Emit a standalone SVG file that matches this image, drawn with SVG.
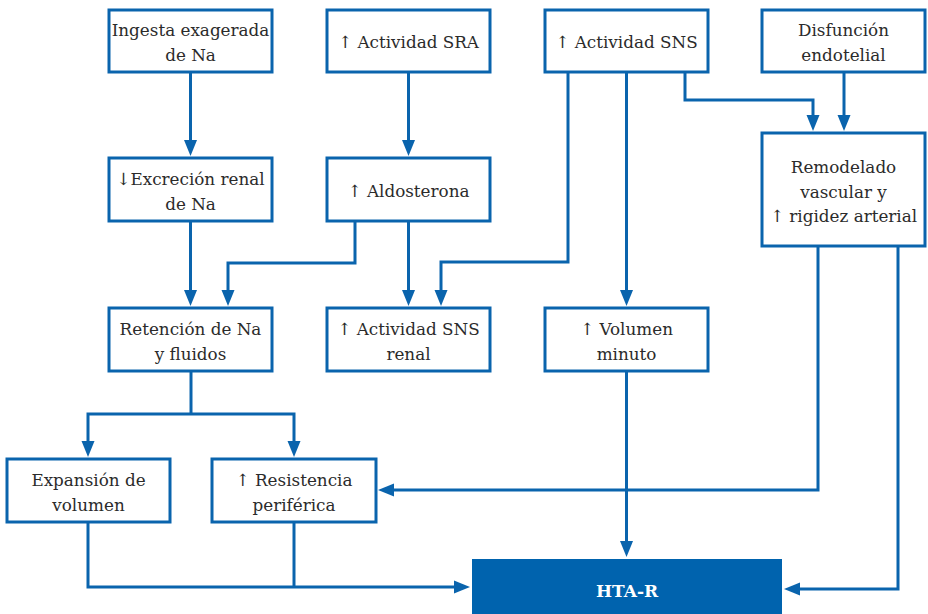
<svg xmlns="http://www.w3.org/2000/svg" width="928" height="614" viewBox="0 0 928 614">
  <style>
    .box { fill: #ffffff; stroke: #0a64ad; stroke-width: 3; }
    .final { fill: #0063ae; stroke: none; }
    .lbl { font-family: "DejaVu Serif", "Liberation Serif", serif; font-size: 16.8px; fill: #2b2b2b; text-anchor: middle; }
    .final-lbl { font-family: "DejaVu Serif", "Liberation Serif", serif; font-size: 17px; font-weight: bold; fill: #ffffff; text-anchor: middle; }
    .wire { fill: none; stroke: #0a64ad; stroke-width: 3; stroke-linejoin: miter; }
  </style>
  <defs>
    <marker id="arrow" markerUnits="userSpaceOnUse" markerWidth="16" markerHeight="14" viewBox="0 0 16 14" refX="10" refY="7" orient="auto">
      <path d="M0,0.5 L16,7 L0,13.5 z" fill="#0a64ad"/>
    </marker>
  </defs>

  <rect width="928" height="614" fill="#ffffff"/>

  <!-- connectors -->
  <g id="connectors">
    <path class="wire" d="M190.5,72 V150" marker-end="url(#arrow)"/>
    <path class="wire" d="M408.5,72 V150" marker-end="url(#arrow)"/>
    <path class="wire" d="M190.5,221 V300" marker-end="url(#arrow)"/>
    <path class="wire" d="M355,221 V263 H228 V300" marker-end="url(#arrow)"/>
    <path class="wire" d="M408.5,221 V300" marker-end="url(#arrow)"/>
    <path class="wire" d="M568,72 V262 H441 V300" marker-end="url(#arrow)"/>
    <path class="wire" d="M626.5,72 V300" marker-end="url(#arrow)"/>
    <path class="wire" d="M685,72 V100 H813 V125" marker-end="url(#arrow)"/>
    <path class="wire" d="M844,72 V125" marker-end="url(#arrow)"/>
    <path class="wire" d="M818,246 V490 H384" marker-end="url(#arrow)"/>
    <path class="wire" d="M898,246 V589 H790" marker-end="url(#arrow)"/>
    <path class="wire" d="M626.5,371 V551" marker-end="url(#arrow)"/>
    <path class="wire" d="M191,371 V414"/>
    <path class="wire" d="M191,414 H88 V451" marker-end="url(#arrow)"/>
    <path class="wire" d="M191,414 H294 V451" marker-end="url(#arrow)"/>
    <path class="wire" d="M294,522 V587"/>
    <path class="wire" d="M88,522 V587 H464" marker-end="url(#arrow)"/>
  </g>

  <!-- row 1 -->
  <g id="ingesta">
    <rect class="box" x="109" y="10" width="163" height="62"/>
    <text class="lbl" x="190.5" y="36">Ingesta exagerada</text>
    <text class="lbl" x="190.5" y="61">de Na</text>
  </g>
  <g id="sra">
    <rect class="box" x="327" y="10" width="163" height="62"/>
    <text class="lbl" x="408.5" y="48">↑ Actividad SRA</text>
  </g>
  <g id="sns">
    <rect class="box" x="545" y="10" width="163" height="62"/>
    <text class="lbl" x="626.5" y="48">↑ Actividad SNS</text>
  </g>
  <g id="disfuncion">
    <rect class="box" x="762" y="10" width="163" height="62"/>
    <text class="lbl" x="843.5" y="36">Disfunción</text>
    <text class="lbl" x="843.5" y="61">endotelial</text>
  </g>

  <!-- row 2 -->
  <g id="excrecion">
    <rect class="box" x="109" y="158" width="163" height="63"/>
    <text class="lbl" x="190.5" y="185">↓Excreción renal</text>
    <text class="lbl" x="190.5" y="210">de Na</text>
  </g>
  <g id="aldosterona">
    <rect class="box" x="327" y="158" width="163" height="63"/>
    <text class="lbl" x="408.5" y="197">↑ Aldosterona</text>
  </g>
  <g id="remodelado">
    <rect class="box" x="762" y="133" width="163" height="113"/>
    <text class="lbl" x="843.5" y="173">Remodelado</text>
    <text class="lbl" x="843.5" y="198">vascular y</text>
    <text class="lbl" x="843.5" y="222">↑ rigidez arterial</text>
  </g>

  <!-- row 3 -->
  <g id="retencion">
    <rect class="box" x="109" y="308" width="163" height="63"/>
    <text class="lbl" x="190.5" y="335">Retención de Na</text>
    <text class="lbl" x="190.5" y="360">y fluidos</text>
  </g>
  <g id="sns-renal">
    <rect class="box" x="327" y="308" width="163" height="63"/>
    <text class="lbl" x="408.5" y="335">↑ Actividad SNS</text>
    <text class="lbl" x="408.5" y="360">renal</text>
  </g>
  <g id="volumen-minuto">
    <rect class="box" x="545" y="308" width="163" height="63"/>
    <text class="lbl" x="626.5" y="335">↑ Volumen</text>
    <text class="lbl" x="626.5" y="360">minuto</text>
  </g>

  <!-- row 4 -->
  <g id="expansion">
    <rect class="box" x="7" y="459" width="163" height="63"/>
    <text class="lbl" x="88.5" y="486">Expansión de</text>
    <text class="lbl" x="88.5" y="511">volumen</text>
  </g>
  <g id="resistencia">
    <rect class="box" x="212" y="459" width="164" height="63"/>
    <text class="lbl" x="294" y="486">↑ Resistencia</text>
    <text class="lbl" x="294" y="511">periférica</text>
  </g>

  <!-- outcome -->
  <g id="hta-r">
    <rect class="final" x="472" y="559" width="310" height="57"/>
    <text class="final-lbl" x="627" y="597">HTA-R</text>
  </g>
</svg>
